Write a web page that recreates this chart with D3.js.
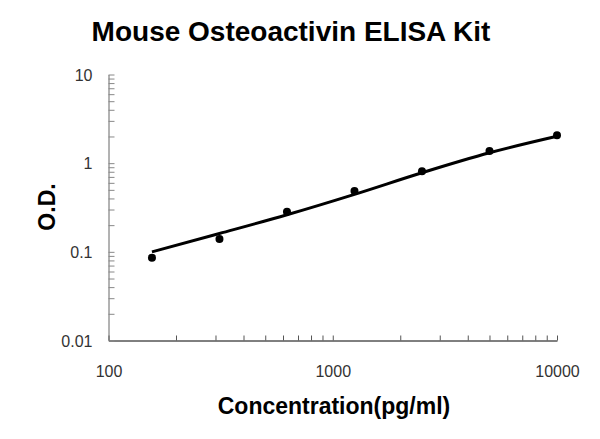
<!DOCTYPE html>
<html><head><meta charset="utf-8">
<script src="https://cdn.jsdelivr.net/npm/d3@7"></script>
<style>body{margin:0;background:#fff}svg{display:block}</style>
</head><body>
<svg id="chart" width="600" height="439"></svg>
<script>
const title = "Mouse Osteoactivin ELISA Kit";
const xLabel = "Concentration(pg/ml)";
const yLabel = "O.D.";
const concentrations = [156.25, 312.5, 625, 1250, 2500, 5000, 10000];
const odValues = [0.086, 0.14, 0.284, 0.484, 0.81, 1.37, 2.07];
const fitConc = [156.25, 312.5, 625, 1250, 2500, 5000, 10000];
const fitOD = [0.1, 0.161, 0.262, 0.445, 0.78, 1.31, 2.01];
const xTicks = [100, 1000, 10000];
const yTicks = [0.01, 0.1, 1, 10];

(function () {
const svg = d3.select("#chart");
const mLeft = 108.5, mRight = 557, mTop = 74.5, mBottom = 340.5;
const x = d3.scaleLog().domain([100, 10000]).range([mLeft, mRight]);
const y = d3.scaleLog().domain([0.01, 10]).range([mBottom, mTop]);

svg.append("text").attr("x", 291).attr("y", 41).attr("text-anchor", "middle")
  .attr("font-family", "Liberation Sans, Arial, sans-serif").attr("font-weight", "bold")
  .attr("font-size", 28).attr("fill", "#000").text(title);

const xMinor = [];
for (let d = 100; d < 10000; d *= 10) for (let k = 2; k <= 9; k++) xMinor.push(d * k);
const yMinor = [];
for (let d = 0.01; d < 9; d *= 10) for (let k = 2; k <= 9; k++) yMinor.push(+(d * k).toPrecision(3));

const xAxis = d3.axisBottom(x).tickValues(xTicks.concat(xMinor)).tickSizeInner(-5).tickSizeOuter(0)
  .tickFormat(d => xTicks.includes(d) ? d3.format("d")(d) : "");
const gx = svg.append("g").attr("transform", `translate(0,${mBottom})`).call(xAxis);
gx.select(".domain").attr("stroke", "#000");
gx.selectAll(".tick line").attr("stroke", "#555");
gx.selectAll(".tick text").attr("dy", 0).attr("y", 36)
  .attr("font-family", "Liberation Sans, Arial, sans-serif").attr("font-size", 16).attr("fill", "#333");

const yAxis = d3.axisLeft(y).tickValues(yTicks.concat(yMinor)).tickSizeInner(-6).tickSizeOuter(0)
  .tickFormat(d => yTicks.includes(d) ? String(d) : "");
const gy = svg.append("g").attr("transform", `translate(${mLeft},0)`).call(yAxis);
gy.select(".domain").attr("stroke", "#666");
gy.selectAll(".tick line").attr("stroke", "#888");
gy.selectAll(".tick text").attr("x", -16).attr("dy", "0.35em")
  .attr("font-family", "Liberation Sans, Arial, sans-serif").attr("font-size", 16).attr("fill", "#333");

const line = d3.line().x(d => x(d[0])).y(d => y(d[1])).curve(d3.curveMonotoneX);
svg.append("path").datum(fitConc.map((c, i) => [c, fitOD[i]]))
  .attr("d", line).attr("fill", "none").attr("stroke", "#000").attr("stroke-width", 3);

svg.selectAll("circle.pt").data(concentrations).enter().append("circle").attr("class", "pt")
  .attr("cx", d => x(d)).attr("cy", (d, i) => y(odValues[i])).attr("r", 4).attr("fill", "#000");

svg.append("text").attr("x", 334).attr("y", 414).attr("text-anchor", "middle")
  .attr("font-family", "Liberation Sans, Arial, sans-serif").attr("font-weight", "bold")
  .attr("font-size", 23).attr("fill", "#000").text(xLabel);

svg.append("text").attr("transform", "translate(55,207) rotate(-90)").attr("text-anchor", "middle")
  .attr("font-family", "Liberation Sans, Arial, sans-serif").attr("font-weight", "bold")
  .attr("font-size", 23).attr("fill", "#000").text(yLabel);
})();
</script>
</body></html>
